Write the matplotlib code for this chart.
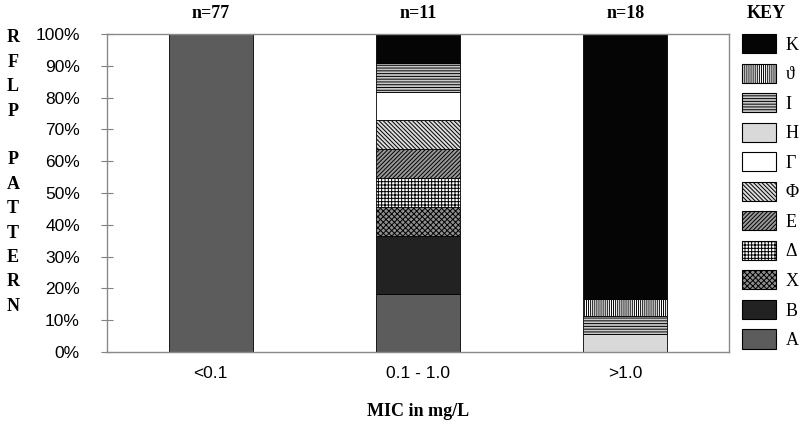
import numpy as np
import matplotlib
matplotlib.use('Agg')
import matplotlib.pyplot as plt
from matplotlib.patches import Patch
import matplotlib.transforms as mtransforms

plt.rcParams['hatch.linewidth'] = 0.7

# data: share of isolates (%) per RFLP pattern in each MIC group
categories = ['<0.1', '0.1 - 1.0', '>1.0']
n_labels = ['n=77', 'n=11', 'n=18']
patterns = ['Α', 'Β', 'Χ', 'Δ', 'Ε', 'Φ', 'Γ', 'Η', 'Ι', 'ϑ', 'Κ']  # bottom -> top
values = {
    'Α': [100, 18.2, 0],
    'Β': [0, 18.2, 0],
    'Χ': [0, 9.1, 0],
    'Δ': [0, 9.1, 0],
    'Ε': [0, 9.1, 0],
    'Φ': [0, 9.1, 0],
    'Γ': [0, 9.1, 0],
    'Η': [0, 0, 5.6],
    'Ι': [0, 9.1, 5.6],
    'ϑ': [0, 0, 5.5],
    'Κ': [0, 9.0, 83.3],
}

# fill styles (face colour, hatch)
styles = {
    'Α': ('#5c5c5c', None),
    'Β': ('#222222', None),
    'Χ': ('#8f8f8f', 'xxxxxx'),
    'Δ': ('#ffffff', '+++++'),
    'Ε': ('#999999', '////////'),
    'Φ': ('#dcdcdc', '\\\\\\\\\\\\\\\\'),
    'Γ': ('#ffffff', None),
    'Η': ('#d9d9d9', None),
    'Ι': ('#c8c8c8', '------'),
    'ϑ': ('#ffffff', '||||||||'),
    'Κ': ('#050505', None),
}

serif = ['Liberation Serif', 'DejaVu Serif']
sans = ['Liberation Sans', 'DejaVu Sans']

fig = plt.figure(figsize=(8, 4.28), dpi=100)
ax = fig.add_axes([107/800, 76/428, 622/800, 318/428])

x = np.arange(len(categories))
bottom = np.zeros(len(categories))
for p in patterns:
    h = np.array(values[p], dtype=float)
    fc, hatch = styles[p]
    ax.bar(x, h, width=0.405, bottom=bottom, color=fc, edgecolor='black',
           linewidth=0.6, hatch=hatch)
    bottom += h

ax.set_xlim(-0.5, 2.5)
ax.set_ylim(0, 100)
ax.set_yticks(np.arange(0, 101, 10))
ax.set_yticklabels([f'{v}%' for v in range(0, 101, 10)], family=sans, fontsize=12.5)
ax.set_xticks(x)
ax.set_xticklabels(categories, family=sans, fontsize=12.5)
ax.tick_params(axis='x', length=0, pad=10)
ax.tick_params(axis='y', direction='inout', length=9, pad=15, color='#808080')
for s in ax.spines.values():
    s.set_color('#8a8a8a')
    s.set_linewidth(1.0)

# n labels above bars
trans = mtransforms.blended_transform_factory(ax.transData, ax.transAxes)
for xi, lab in zip(x, n_labels):
    ax.text(xi, 1.063, lab, transform=trans, ha='center', va='center',
            family=serif, fontweight='bold', fontsize=13)

fig.text(766/800, 1 - 14/428, 'KEY', ha='center', va='center',
         family=serif, fontweight='bold', fontsize=13)

ax.set_xlabel('MIC in mg/L', family=serif, fontweight='bold', fontsize=13, labelpad=16)

# vertical stacked y label
for i, ch in enumerate('RFLP PATTERN'):
    fig.text(13/800, 1 - (38 + i*24.4)/428, ch, ha='center', va='center',
             family=serif, fontweight='bold', fontsize=13)

handles = [Patch(facecolor=styles[p][0], hatch=styles[p][1], edgecolor='black',
                 linewidth=0.8, label=p) for p in reversed(patterns)]
fig.legend(handles=handles, loc='upper left', bbox_to_anchor=(742/800, 1 - 34/428),
           frameon=False, prop={'family': serif, 'size': 13},
           handlelength=1.9, handleheight=1.25, handletextpad=0.5,
           labelspacing=0.55, borderpad=0, borderaxespad=0)

fig.savefig('out.png', dpi=100)
